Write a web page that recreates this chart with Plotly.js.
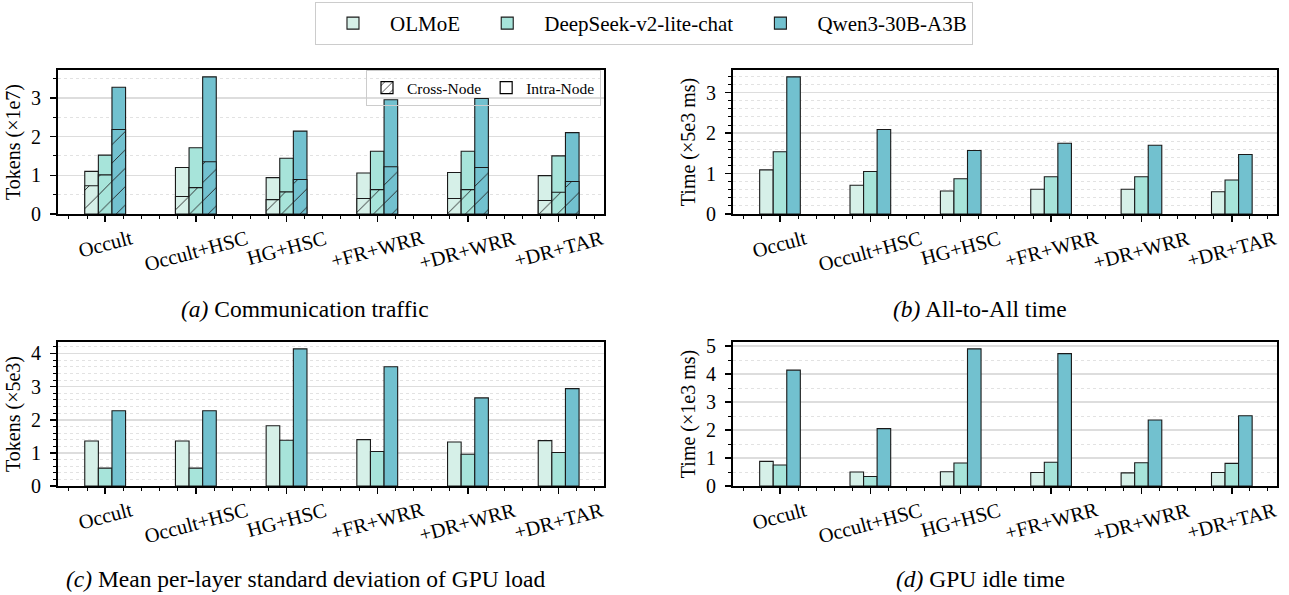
<!DOCTYPE html>
<html><head><meta charset="utf-8">
<script src="https://cdn.plot.ly/plotly-3.0.1.min.js"></script>
<style>body{margin:0;background:#fff}#chart{width:1289px;height:595px}</style>
</head><body><div id="chart"></div>
<script>
// ---------- data ----------
const categories = ["Occult", "Occult+HSC", "HG+HSC", "+FR+WRR", "+DR+WRR", "+DR+TAR"];
const models = ["OLMoE", "DeepSeek-v2-lite-chat", "Qwen3-30B-A3B"];
const colors = ["#d6f0e8", "#a7e4da", "#72c1cf"];

// (a) Communication traffic (x1e7 tokens): total and cross-node part
const trafficTotal_OLMoE    = [1.10, 1.20, 0.94, 1.06, 1.07, 0.99];
const trafficTotal_DeepSeek = [1.52, 1.71, 1.44, 1.62, 1.62, 1.50];
const trafficTotal_Qwen     = [3.27, 3.54, 2.14, 2.95, 2.98, 2.10];
const trafficCross_OLMoE    = [0.73, 0.45, 0.37, 0.40, 0.40, 0.35];
const trafficCross_DeepSeek = [1.01, 0.68, 0.57, 0.63, 0.63, 0.56];
const trafficCross_Qwen     = [2.18, 1.35, 0.89, 1.22, 1.20, 0.84];

// (b) All-to-All time (x5e3 ms)
const a2a_OLMoE    = [1.09, 0.71, 0.57, 0.61, 0.61, 0.55];
const a2a_DeepSeek = [1.54, 1.05, 0.87, 0.92, 0.92, 0.84];
const a2a_Qwen     = [3.39, 2.09, 1.57, 1.75, 1.70, 1.47];

// (c) Mean per-layer std of GPU load (x5e3 tokens)
const std_OLMoE    = [1.36, 1.36, 1.82, 1.40, 1.33, 1.37];
const std_DeepSeek = [0.54, 0.54, 1.38, 1.04, 0.96, 1.01];
const std_Qwen     = [2.27, 2.27, 4.14, 3.60, 2.66, 2.94];

// (d) GPU idle time (x1e3 ms)
const idle_OLMoE    = [0.88, 0.50, 0.51, 0.48, 0.47, 0.48];
const idle_DeepSeek = [0.75, 0.34, 0.82, 0.85, 0.83, 0.81];
const idle_Qwen     = [4.14, 2.05, 4.90, 4.73, 2.36, 2.51];

const yTitles = ["Tokens (×1e7)", "Time (×5e3 ms)", "Tokens (×5e3)", "Time (×1e3 ms)"];
const captions = ["<i>(a)</i> Communication traffic", "<i>(b)</i> All-to-All time",
                  "<i>(c)</i> Mean per-layer standard deviation of GPU load", "<i>(d)</i> GPU idle time"];
const innerLegend = ["Cross-Node", "Intra-Node"];

// ---------- build ----------
const FONT = "'Liberation Serif', 'Times New Roman', serif";
const NB = "\u00a0";
const pos = categories.map((c, i) => i);
const offsets = [-0.225, -0.075, 0.075];
const BW = 0.15;
const panels = [
  [trafficTotal_OLMoE, trafficTotal_DeepSeek, trafficTotal_Qwen],
  [a2a_OLMoE, a2a_DeepSeek, a2a_Qwen],
  [std_OLMoE, std_DeepSeek, std_Qwen],
  [idle_OLMoE, idle_DeepSeek, idle_Qwen]
];
const cross = [trafficCross_OLMoE, trafficCross_DeepSeek, trafficCross_Qwen];
const minorDt = [0.5, 0.2, 0.2, 0.5];

const W = 1289, H = 595;
const boxes = [ // [left, right, top, bottom] in px
  [58, 604, 70, 214],
  [733, 1277, 70, 214],
  [58, 604, 342, 486],
  [733, 1277, 342, 486]
];
const captionPos = [[305, 309], [980, 309], [305, 579], [980, 579]];

const traces = [];
const layout = {
  width: W, height: H,
  margin: {l: 0, r: 0, t: 0, b: 0},
  paper_bgcolor: "#fff", plot_bgcolor: "#fff",
  font: {family: FONT, size: 20, color: "#000"},
  barmode: "overlay",
  showlegend: true,
  legend: {
    orientation: "h", x: 0.4996, xanchor: "center", y: 1 - 2 / H, yanchor: "top",
    bordercolor: "#cccccc", borderwidth: 1, bgcolor: "#fff", itemwidth: 64,
    font: {family: FONT, size: 21}, traceorder: "normal"
  },
  legend2: {
    orientation: "h", x: 601 / W, xanchor: "right", y: 1 - 70 / H, yanchor: "top",
    bordercolor: "#cccccc", borderwidth: 1, bgcolor: "rgba(255,255,255,0)",
    font: {family: FONT, size: 15.5}, itemwidth: 30
  },
  annotations: []
};

panels.forEach((series, p) => {
  const sfx = p === 0 ? "" : String(p + 1);
  const xa = "x" + sfx, ya = "y" + sfx;
  const [l, r, t, b] = boxes[p];
  const ymax = Math.max(...series.flat()) * 1.05;

  series.forEach((vals, s) => {
    traces.push({
      type: "bar", x: pos, y: vals, xaxis: xa, yaxis: ya,
      offset: offsets[s], width: BW, name: s < 2 ? models[s] + NB : models[s], legendgroup: models[s],
      showlegend: p === 0,
      marker: {color: colors[s], line: {color: "#1a1a1a", width: 1.1}},
      hoverinfo: "skip"
    });
  });
  if (p === 0) {
    cross.forEach((vals, s) => {
      traces.push({
        type: "bar", x: pos, y: vals, xaxis: xa, yaxis: ya,
        offset: offsets[s], width: BW, name: models[s] + " cross", showlegend: false,
        marker: {color: colors[s], line: {color: "#1a1a1a", width: 1.1},
                 pattern: {shape: "/", fgcolor: "#222", bgcolor: colors[s], size: 13, solidity: 0.07}},
        hoverinfo: "skip"
      });
    });
  }

  layout["xaxis" + sfx] = {
    domain: [l / W, r / W], anchor: ya, range: [-0.52, 5.5],
    tickvals: pos, showticklabels: false,
    ticks: "outside", ticklen: 6, tickwidth: 1.5, tickcolor: "#000",
    showline: true, mirror: true, linecolor: "#000", linewidth: 2,
    showgrid: false, zeroline: false, fixedrange: true,
    minor: {dtick: 0.2, tick0: 0, ticks: "outside", ticklen: 3, tickwidth: 1, tickcolor: "#000", showgrid: false}
  };
  layout["yaxis" + sfx] = {
    domain: [1 - b / H, 1 - t / H], anchor: xa, range: [0, ymax],
    tick0: 0, dtick: 1, ticks: "outside", ticklen: 6, tickwidth: 1.5, tickcolor: "#000",
    ticklabelstandoff: 5,
    showline: true, mirror: true, linecolor: "#000", linewidth: 2,
    showgrid: true, gridcolor: "#dddddd", gridwidth: 1.5, zeroline: false, fixedrange: true,
    tickfont: {family: FONT, size: 20},
    minor: {dtick: minorDt[p], tick0: 0, ticks: "outside", ticklen: 3, tickwidth: 1, tickcolor: "#000",
            showgrid: true, gridcolor: "#e2e2e2", gridwidth: 1, griddash: "dot"},
    title: {text: yTitles[p], font: {family: FONT, size: 20}, standoff: 5}
  };

  categories.forEach((c, i) => {
    layout.annotations.push({
      xref: xa, yref: "paper", x: i, y: 1 - (b + 10) / H,
      text: c, textangle: -15, xanchor: "center", yanchor: "top",
      showarrow: false, font: {family: FONT, size: 20.5}
    });
  });
  layout.annotations.push({
    xref: "paper", yref: "paper", x: captionPos[p][0] / W, y: 1 - captionPos[p][1] / H,
    xanchor: "center", yanchor: "middle", text: captions[p], showarrow: false,
    font: {family: FONT, size: 23.5}
  });
});

// inner legend entries for panel (a)
traces.push({
  type: "bar", x: [null], y: [null], xaxis: "x", yaxis: "y", name: innerLegend[0], legend: "legend2",
  marker: {color: "#fff", line: {color: "#000", width: 1.2},
           pattern: {shape: "/", fgcolor: "#000", bgcolor: "#fff", size: 7, solidity: 0.12}}
});
traces.push({
  type: "bar", x: [null], y: [null], xaxis: "x", yaxis: "y", name: innerLegend[1], legend: "legend2",
  marker: {color: "#fff", line: {color: "#000", width: 1.2}}
});

Plotly.newPlot("chart", traces, layout, {staticPlot: true, displayModeBar: false});
</script>
</body></html>
